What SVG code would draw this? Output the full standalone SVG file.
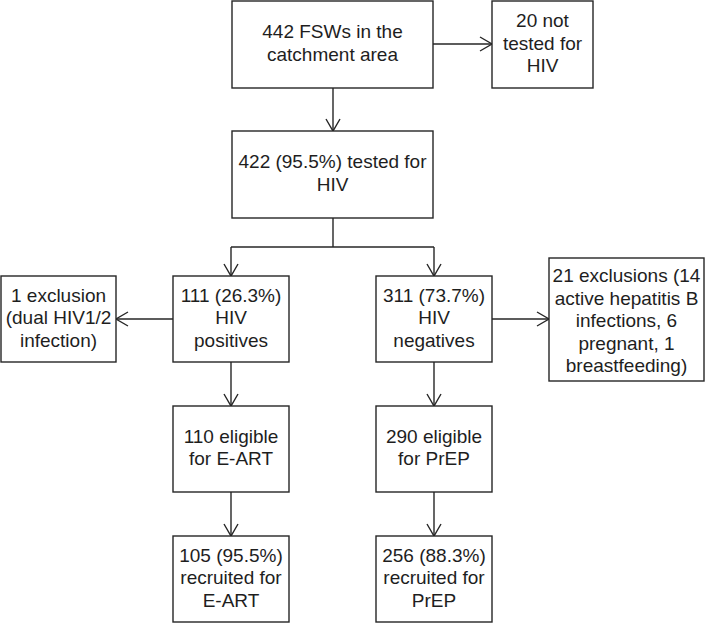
<svg xmlns="http://www.w3.org/2000/svg" width="709" height="623" viewBox="0 0 709 623">
<defs>
<style>
.box{fill:#fff;stroke:#262626;stroke-width:1.4}
.t{font-family:"Liberation Sans",Arial,sans-serif;font-size:19px;fill:#1e1e1e;text-anchor:middle}
.c{fill:none;stroke:#262626;stroke-width:1.4}
</style>
<marker id="arr" markerUnits="userSpaceOnUse" markerWidth="16" markerHeight="18" refX="13" refY="8" orient="auto" viewBox="0 0 16 18">
<path d="M1,1 L13,8 L1,15" fill="none" stroke="#262626" stroke-width="1.4"/>
</marker>
</defs>
<rect width="709" height="623" fill="#fff"/>
<g id="connectors">
<line class="c" x1="433" y1="44" x2="492" y2="44" marker-end="url(#arr)"/>
<line class="c" x1="333" y1="88" x2="333" y2="131" marker-end="url(#arr)"/>
<line class="c" x1="333" y1="218" x2="333" y2="247"/>
<line class="c" x1="231" y1="247" x2="434" y2="247"/>
<line class="c" x1="231" y1="247" x2="231" y2="276" marker-end="url(#arr)"/>
<line class="c" x1="434" y1="247" x2="434" y2="276" marker-end="url(#arr)"/>
<line class="c" x1="173" y1="319" x2="116" y2="319" marker-end="url(#arr)"/>
<line class="c" x1="492" y1="319" x2="549" y2="319" marker-end="url(#arr)"/>
<line class="c" x1="231" y1="362" x2="231" y2="406" marker-end="url(#arr)"/>
<line class="c" x1="434" y1="362" x2="434" y2="406" marker-end="url(#arr)"/>
<line class="c" x1="231" y1="492" x2="231" y2="536" marker-end="url(#arr)"/>
<line class="c" x1="434" y1="492" x2="434" y2="536" marker-end="url(#arr)"/>
</g>
<g id="n1"><rect class="box" x="232" y="1" width="201" height="87"/>
<text class="t" x="332.5" y="38.3">442 FSWs in the</text><text class="t" x="332.5" y="60.8">catchment area</text></g>
<g id="n2"><rect class="box" x="492" y="1" width="101" height="87"/>
<text class="t" x="542.5" y="27">20 not</text><text class="t" x="542.5" y="49.5">tested for</text><text class="t" x="542.5" y="72">HIV</text></g>
<g id="n3"><rect class="box" x="232" y="131" width="201" height="87"/>
<text class="t" x="332.5" y="168.3">422 (95.5%) tested for</text><text class="t" x="332.5" y="190.8">HIV</text></g>
<g id="n4"><rect class="box" x="173" y="276" width="116" height="86"/>
<text class="t" x="231" y="301.5">111 (26.3%)</text><text class="t" x="231" y="324">HIV</text><text class="t" x="231" y="346.5">positives</text></g>
<g id="n5"><rect class="box" x="1" y="276" width="115" height="86"/>
<text class="t" x="58.5" y="301.5">1 exclusion</text><text class="t" x="58.5" y="324">(dual HIV1/2</text><text class="t" x="58.5" y="346.5">infection)</text></g>
<g id="n6"><rect class="box" x="376" y="276" width="116" height="86"/>
<text class="t" x="434" y="301.5">311 (73.7%)</text><text class="t" x="434" y="324">HIV</text><text class="t" x="434" y="346.5">negatives</text></g>
<g id="n7"><rect class="box" x="549" y="258" width="155" height="123"/>
<text class="t" x="626.5" y="282">21 exclusions (14</text><text class="t" x="626.5" y="304.5">active hepatitis B</text><text class="t" x="626.5" y="327">infections, 6</text><text class="t" x="626.5" y="349.5">pregnant, 1</text><text class="t" x="626.5" y="372">breastfeeding)</text></g>
<g id="n8"><rect class="box" x="173" y="406" width="116" height="86"/>
<text class="t" x="231" y="442.8">110 eligible</text><text class="t" x="231" y="465.3">for E-ART</text></g>
<g id="n9"><rect class="box" x="376" y="406" width="116" height="86"/>
<text class="t" x="434" y="442.8">290 eligible</text><text class="t" x="434" y="465.3">for PrEP</text></g>
<g id="n10"><rect class="box" x="173" y="536" width="116" height="86"/>
<text class="t" x="231" y="561.5">105 (95.5%)</text><text class="t" x="231" y="584">recruited for</text><text class="t" x="231" y="606.5">E-ART</text></g>
<g id="n11"><rect class="box" x="376" y="536" width="116" height="86"/>
<text class="t" x="434" y="561.5">256 (88.3%)</text><text class="t" x="434" y="584">recruited for</text><text class="t" x="434" y="606.5">PrEP</text></g>
</svg>
